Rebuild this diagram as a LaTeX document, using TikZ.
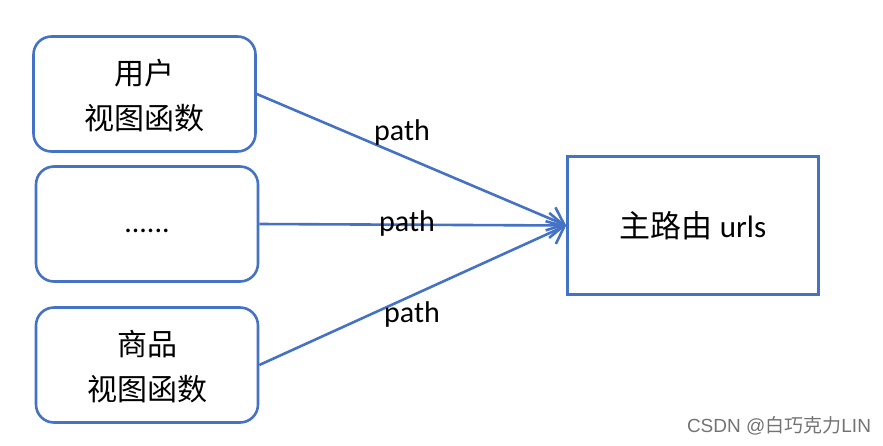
\documentclass[tikz,border=0pt]{standalone}
\usepackage{fontspec}
\setmainfont{Carlito}
\newfontfamily\cjk{Noto Sans CJK SC}
\newfontfamily\wm{Liberation Sans}
\usetikzlibrary{arrows.meta}
\definecolor{ublue}{RGB}{68,114,196}
\newcommand{\twolines}[2]{\raisebox{-4pt}[\height][\depth]{\begin{tabular}{@{}c@{}}#1\\#2\end{tabular}}}
\begin{document}
\begin{tikzpicture}[x=1pt,y=-1pt,
  rbox/.style={draw=ublue,line width=2.6pt,rounded corners=18pt,minimum width=222pt,minimum height=115pt,inner sep=0pt,align=center,font=\cjk\fontsize{30}{45}\selectfont},
  mbox/.style={draw=ublue,line width=2.6pt,minimum width=251pt,minimum height=138pt,inner sep=0pt,font=\fontsize{31}{34}\selectfont},
  conn/.style={draw=ublue,line width=2.6pt,-{Straight Barb[length=15pt,width=25pt,line width=2.6pt]}},
  lbl/.style={font=\fontsize{30}{34}\selectfont,inner sep=0pt}]
\useasboundingbox (0,0) rectangle (883,445);
\node[rbox] (b1) at (144.5,94) {\twolines{用户}{视图函数}};
\node[rbox] (b2) at (147,224) {\raisebox{-7pt}[\height][\depth]{\fontspec{Carlito}......}};
\node[rbox] (b3) at (147,365) {\twolines{商品}{视图函数}};
\node[mbox] (m) at (693,225.5) {{\cjk 主路由} urls};
\draw[conn] (b1.east) -- (m.west);
\draw[conn] (b2.east) -- (m.west);
\draw[conn] (b3.east) -- (m.west);
\node[lbl] (p1) at (402,132) {path};
\node[lbl] (p2) at (407,223) {path};
\node[lbl] (p3) at (412,314) {path};
\node[font=\fontsize{19}{22}\selectfont,text=black!55,inner sep=0pt] (w) at (779,426) {{\wm CSDN @}{\cjk 白巧克力}{\wm LIN}};
\end{tikzpicture}
\end{document}
